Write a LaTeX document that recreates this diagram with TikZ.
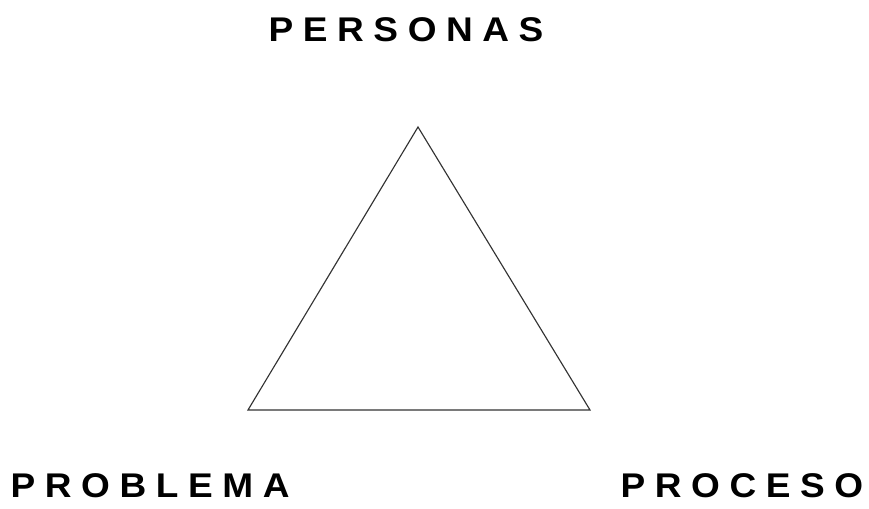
\documentclass[tikz,border=0pt]{standalone}
\usepackage{fontspec}
\setmainfont{Liberation Sans}[LetterSpace=28, FakeStretch=1.08]
\begin{document}
\begin{tikzpicture}[x=0.02cm, y=-0.02cm,
	label/.style={inner sep=0pt, anchor=base west, font=\fontsize{19.5}{19.5}\selectfont\bfseries},
	side/.style={draw=black!80, line width=0.65pt}]
	\useasboundingbox (0, 0) rectangle (869, 509);
	\coordinate (top) at (418, 127);
	\coordinate (left) at (248, 410);
	\coordinate (right) at (590, 410);
	\draw[side] (top) -- (left) -- (right) -- cycle;
	\node[label] (personas) at (268.3, 42) {PERSONAS};
	\node[label] (problema) at (10.3, 498) {PROBLEMA};
	\node[label] (proceso) at (620.3, 498) {PROCESO};
\end{tikzpicture}
\end{document}
